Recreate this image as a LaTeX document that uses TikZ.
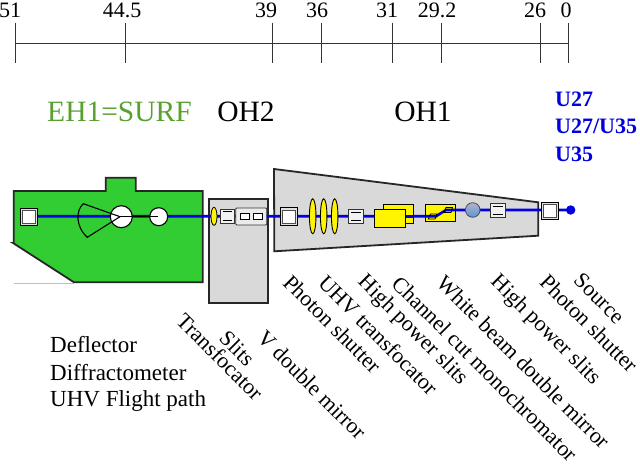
\documentclass[tikz,border=0pt]{standalone}
\usepackage{fontspec}
\usetikzlibrary{shapes.geometric}
\setmainfont{Liberation Serif}
\definecolor{surfgreen}{RGB}{50,205,50}
\definecolor{hutchgray}{RGB}{217,217,217}
\definecolor{labelgreen}{RGB}{88,160,50}
\definecolor{beamblue}{RGB}{0,0,225}
\definecolor{optyellow}{RGB}{255,245,0}
\newcommand{\fs}[1]{\fontsize{#1}{#1}\selectfont}
\tikzset{
  hutch/.style={draw=black!85,line width=1.8pt,fill=hutchgray,line join=miter},
  beamline/.style={draw=beamblue,line width=2.6pt},
  rulerline/.style={draw=black!80,line width=0.8pt},
  ticklabel/.style={font=\fs{22},inner sep=0pt,anchor=center},
  hutchlabel/.style={font=\fs{29.5},inner sep=0pt,anchor=center},
  undulator/.style={font=\bfseries\fs{22},text=beamblue,inner sep=0pt,anchor=west},
  itemlabel/.style={font=\fs{22},inner sep=0pt,anchor=center,rotate=-45},
  listlabel/.style={font=\fs{23},inner sep=0pt,anchor=west},
  optbox/.style={draw=black,line width=1pt,fill=optyellow},
  slitbox/.style={draw=black!80,line width=0.8pt,fill=black!5},
  slitbar/.style={draw=black,line width=1.1pt},
}
\begin{document}
\begin{tikzpicture}[x=1pt,y=-1pt]
\useasboundingbox (0,0) rectangle (640,465);
\fill[white] (0,0) rectangle (640,465);
% ruler
\draw[rulerline] (15,43) -- (568,43);
\foreach \x in {15,125,272,321,392,441,540,568}
  \draw[rulerline] (\x,23) -- (\x,63);
\node[ticklabel] (t51) at (10,10) {51};
\node[ticklabel] (t445) at (122,10) {44.5};
\node[ticklabel] (t39) at (266,10) {39};
\node[ticklabel] (t36) at (317,10) {36};
\node[ticklabel] (t31) at (387,10) {31};
\node[ticklabel] (t292) at (437,10) {29.2};
\node[ticklabel] (t26) at (535,10) {26};
\node[ticklabel] (t0) at (566,10) {0};
% hutch labels
\node[hutchlabel,text=labelgreen] (eh) at (119.5,112) {EH1=SURF};
\node[hutchlabel] (oh2) at (246,112) {OH2};
\node[hutchlabel] (oh1) at (423,112) {OH1};
\node[undulator] (u1) at (555,99) {U27};
\node[undulator] (u2) at (555,126) {U27/U35};
\node[undulator] (u3) at (555,154) {U35};
% hutches
\draw[draw=black!25,line width=1pt] (13.5,283) -- (74,283);
\draw[hutch,fill=surfgreen] (13.7,191) -- (105.7,191) -- (105.7,177.7) -- (135.7,177.7) -- (135.7,191) -- (202.7,191) -- (202.7,282.3) -- (74,282.3) -- (13,243) -- (13.7,243) -- cycle;
\draw[hutch] (209,198.7) rectangle (268.3,303);
\draw[hutch] (274,169) -- (538.3,202.3) -- (538.3,235.7) -- (274.3,251.3) -- cycle;
% beam
\coordinate (srcpt) at (570.7,210);
\coordinate (kinkA) at (436,216.3);
\coordinate (kinkB) at (446,210);
\draw[beamline] (srcpt) -- (kinkB) -- (kinkA) -- (37,216.3);
% experimental hall components
\node[draw=black,line width=0.9pt,fill=black!12,minimum size=17.5pt,inner sep=0pt] (dfl) at (28.7,216.8) {};
\node[draw=black!70,line width=0.5pt,fill=white,minimum size=13pt,inner sep=0pt] (dfli) at (28.8,216.5) {};
\fill[white,draw=black,line width=1.1pt] (121.3,216.7) circle (11pt);
\node[circle,draw=black,line width=1.1pt,fill=white,minimum size=18pt,inner sep=0pt] (flight) at (158.7,216.7) {};
\draw[black,line width=1.1pt] (120,216.7) -- (83.3,203.7) .. controls (76,210) and (75,226) .. (87.3,237.3) -- cycle;
\draw[black,line width=1.1pt] (120,216.7) -- (158,216.7);
% OH2 components
\node[draw=black,line width=0.8pt,fill=optyellow,ellipse,minimum width=6pt,minimum height=18pt,inner sep=0pt] (tf2) at (214,216.3) {};
\node[slitbox,minimum width=13.7pt,minimum height=14pt,inner sep=0pt] (sl2) at (227.2,216.3) {};
\draw[slitbar] (222.7,211.8) -- (231.7,211.8) (222.7,220.5) -- (231.7,220.5);
\node[slitbox,fill=black!8,rounded corners=1pt,minimum width=31pt,minimum height=17pt,inner sep=0pt] (vm) at (251.2,216.5) {};
\draw[black,line width=0.9pt,fill=white] (240,213.7) rectangle (249.3,219.3);
\draw[black,line width=0.9pt,fill=white] (253,213.7) rectangle (262.3,219.3);
% OH1 components
\node[draw=black,line width=0.9pt,fill=black!12,minimum size=17.5pt,inner sep=0pt] (ps1) at (288.8,216.5) {};
\node[draw=black!70,line width=0.5pt,fill=white,minimum size=13pt,inner sep=0pt] (ps1i) at (288.8,216.5) {};
\foreach \n/\x in {a/312.7,b/323.7,c/334.7}
  \node[draw=black,line width=0.9pt,fill=optyellow,ellipse,minimum width=6.5pt,minimum height=35pt,inner sep=0pt] (tf\n) at (\x,216.3) {};
\node[slitbox,minimum width=14.6pt,minimum height=14pt,inner sep=0pt] (sl1) at (356,216.3) {};
\draw[slitbar] (351,212.2) -- (361,212.2) (351,220.3) -- (361,220.3);
\draw[optbox] (383.3,205) rectangle (413.7,223.3);
\draw[beamline] (405,216.3) -- (413.7,216.3);
\node[optbox,minimum width=31pt,minimum height=18pt,inner sep=0pt] (ccm) at (389.5,218.7) {};
\draw[optbox] (425.3,204.3) rectangle (455.7,222);
\draw[beamline] (425.3,216.3) -- (kinkA) -- (kinkB) -- (455.7,210);
\draw[black,line width=0.8pt] (428.3,219) -- (435,219) -- (437,214) -- (430.5,214) -- cycle;
\draw[black,line width=0.8pt] (444,212.5) -- (451,212.5) -- (452.5,207.5) -- (446,207.5) -- cycle;
\node[circle,draw=black!70,line width=0.8pt,top color=blue!30!black!30!white,bottom color={rgb,255:red,90;green,150;blue,215},minimum size=14.6pt,inner sep=0pt] (wbm) at (472.7,210) {};
\node[slitbox,minimum width=14.6pt,minimum height=14.4pt,inner sep=0pt] (sl0) at (497.7,210.5) {};
\draw[slitbar] (492.7,206.3) -- (502.7,206.3) (492.7,214.8) -- (502.7,214.8);
\node[draw=black,line width=0.9pt,fill=black!12,minimum size=17.5pt,inner sep=0pt] (ps0) at (549.7,211) {};
\node[draw=black!70,line width=0.5pt,fill=white,minimum size=13pt,inner sep=0pt] (ps0i) at (549.7,211) {};
\node[circle,fill=beamblue,minimum size=9.4pt,inner sep=0pt] (src) at (srcpt) {};
% rotated labels
\node[itemlabel] (lA) at (599.3,298.3) {Source};
\node[itemlabel] (lB) at (589,323.5) {Photon shutter};
\node[itemlabel] (lC) at (545,330.7) {High power slits};
\node[itemlabel] (lD) at (523.3,362) {White beam double mirror};
\node[itemlabel] (lE) at (484.7,368.7) {Channel cut monochromator};
\node[itemlabel] (lF) at (412.3,330.7) {High power slits};
\node[itemlabel] (lG) at (378.3,335) {UHV transfocator};
\node[itemlabel] (lH) at (332.3,324) {Photon shutter};
\node[itemlabel] (lI) at (312,385) {V double mirror};
\node[itemlabel] (lJ) at (237.3,348.3) {Slits};
\node[itemlabel] (lK) at (220,356.7) {Transfocator};
% list
\node[listlabel] (l1) at (50,345) {Deflector};
\node[listlabel] (l2) at (50,373) {Diffractometer};
\node[listlabel] (l3) at (50,401) {UHV Flight path};
\end{tikzpicture}
\end{document}
